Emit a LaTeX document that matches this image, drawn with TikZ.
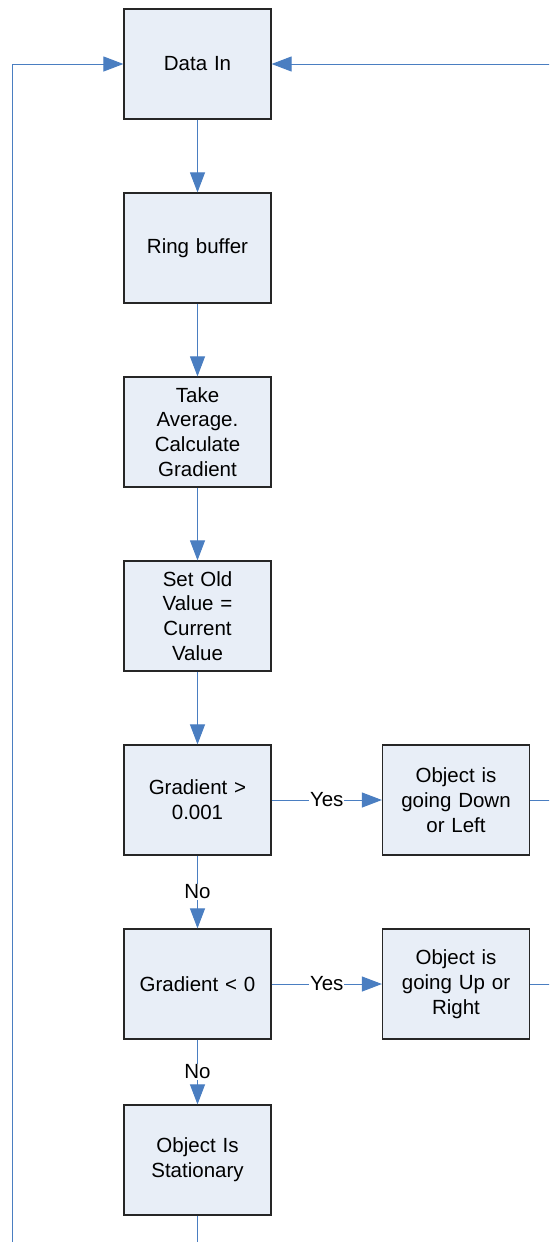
\documentclass[tikz,border=0pt]{standalone}
\usepackage{fontspec}
\setmainfont{Liberation Sans}
\usetikzlibrary{arrows.meta}
\definecolor{flowline}{RGB}{74,126,193}
\definecolor{boxfill}{RGB}{232,238,247}
\definecolor{boxedge}{RGB}{38,38,38}
\begin{document}
\begin{tikzpicture}[x=1pt,y=-1pt,
  proc/.style={draw=boxedge,line width=1.2pt,fill=boxfill,minimum width=147pt,minimum height=110pt,
    align=center,font=\fontsize{20.5}{24.7}\selectfont,inner sep=2pt,text width=142pt},
  flow/.style={draw=flowline,line width=1pt},
  tip/.style={-{Triangle[length=20pt,width=15pt]}},
  lbl/.style={fill=white,inner sep=1pt,font=\fontsize{20.5}{24.7}\selectfont}]
\useasboundingbox (0,0) rectangle (549,1242);
\clip (0,0) rectangle (549,1242);
% main column
\node[proc] (din)  at (197.5,64)   {Data In};
\node[proc] (ring) at (197.5,248)  {Ring buffer};
\node[proc] (avg)  at (197.5,432)  {Take\\Average.\\Calculate\\Gradient};
\node[proc] (old)  at (197.5,616)  {Set Old\\Value =\\Current\\Value};
\node[proc] (gpos) at (197.5,800)  {Gradient >\\0.001};
\node[proc] (gneg) at (197.5,984)  {Gradient < 0};
\node[proc] (stat) at (197.5,1160) {Object Is\\Stationary};
% outcome column
\node[proc] (down) at (456,800) {Object is\\going Down\\or Left};
\node[proc] (up)   at (456,984) {Object is\\going Up or\\Right};
% loop-back ends outside the frame
\coordinate (lowturn)  at (197.5,1270);
\coordinate (rightrun) at (570,64);
% straight flow
\draw[flow,tip] (din) -- (ring);
\draw[flow,tip] (ring) -- (avg);
\draw[flow,tip] (avg) -- (old);
\draw[flow,tip] (old) -- (gpos);
\draw[flow,tip] (gpos) -- node[lbl] {No} (gneg);
\draw[flow,tip] (gneg) -- node[lbl] {No} (stat);
\draw[flow,tip] (gpos) -- node[lbl] {Yes} (down);
\draw[flow,tip] (gneg) -- node[lbl] {Yes} (up);
% return paths
\draw[flow,tip] (stat.south) -- (lowturn) -| (12,64) -- (din.west);
\draw[flow] (down.east) -| (rightrun);
\draw[flow] (up.east) -| (rightrun);
\draw[flow,tip] (rightrun) -- (din.east);
\end{tikzpicture}
\end{document}
